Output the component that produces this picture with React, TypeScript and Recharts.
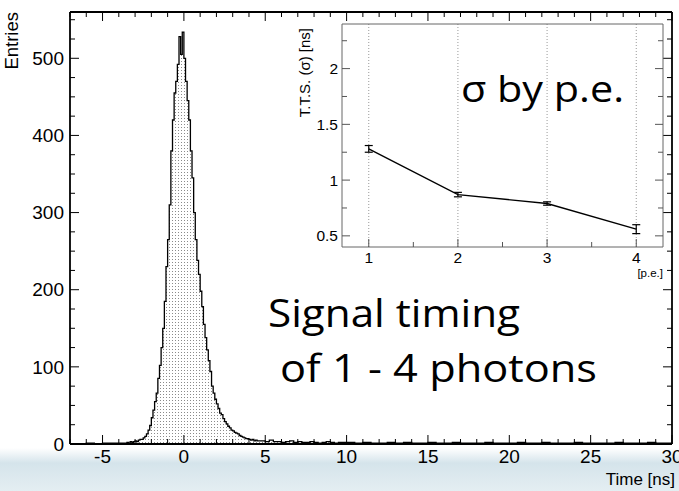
import React from "react";
import {
  Area,
  ComposedChart,
  ErrorBar,
  Line,
  LineChart,
  ReferenceLine,
  XAxis,
  YAxis,
} from "recharts";

// histogram of signal time [ns], bins of different width per region
const leadStart = -7;
const leadWidth = 0.5;
const leadCounts = [0, 0, 1, 0, 1, 1, 1];

const peakStart = -3.5;
const peakWidth = 0.1;
const peakCounts = [
  2, 1, 3, 2, 3, 4, 3, 5, 6, 6,
  8, 10, 13, 18, 24, 34, 44, 55, 66, 85,
  102, 125, 150, 185, 230, 265, 310, 380, 420, 455,
  470, 492, 528, 505, 534, 500, 470, 445, 420, 380,
  345, 300, 265, 238, 220, 198, 178, 155, 138, 122,
  108, 94, 75, 66, 58, 52, 46, 40, 38, 33,
  29, 26, 23, 21, 18, 17, 15, 14, 13, 11,
  10, 9, 8, 7, 7, 6, 5, 6, 4, 5,
];

const tailStart = 4.5;
const tailWidth = 0.25;
const tailCounts = [
  4, 4, 3, 5, 3, 3, 2, 3, 4, 2, 3, 2, 2, 3, 2, 1, 2, 3, 2, 1, 2, 2,
];

const farStart = 10;
const farWidth = 0.5;
const farCounts = [
  2, 1, 2, 1, 1, 2, 1, 2, 1, 1, 2, 1, 1, 2, 1, 1, 1, 2, 1, 1,
  1, 2, 1, 1, 2, 1, 1, 1, 2, 1, 1, 1, 1, 2, 1, 1, 1, 2, 1, 1,
];

// inset: T.T.S. (sigma) vs number of photo-electrons
const peValues = [1, 2, 3, 4];
const ttsValues = [1.28, 0.87, 0.79, 0.56];
const ttsErrors = [0.03, 0.02, 0.015, 0.04];

const timeTicks = Array.from({ length: 38 }, (_, i) => i - 7);
const entryTicks = Array.from({ length: 23 }, (_, i) => i * 25);
const peTicks = [1, 1.5, 2, 2.5, 3, 3.5, 4];
const ttsTicks = [0.5, 0.75, 1, 1.25, 1.5, 1.75, 2, 2.25];

const toRows = (start: number, width: number, counts: number[]) =>
  counts.map((n, i) => ({ t: +(start + i * width).toFixed(3), n }));

const histRows = [
  ...toRows(leadStart, leadWidth, leadCounts),
  ...toRows(peakStart, peakWidth, peakCounts),
  ...toRows(tailStart, tailWidth, tailCounts),
  ...toRows(farStart, farWidth, farCounts),
  { t: 30, n: farCounts[farCounts.length - 1] },
];

const ttsRows = peValues.map((pe, i) => ({
  pe,
  tts: ttsValues[i],
  err: ttsErrors[i],
}));

const font = "'Liberation Sans', Arial, sans-serif";

function TimeTick(props: any) {
  const { x, y, payload, top } = props;
  const v = payload.value;
  const major = v % 5 === 0;
  const len = major ? 9 : 5;
  const dir = top ? 1 : -1;
  return (
    <g>
      <line x1={x} x2={x} y1={y} y2={y + dir * len} stroke="#000" strokeWidth={1} />
      {!top && major && (
        <text x={x} y={y + 19} textAnchor="middle" fontSize={19} fontFamily={font} fill="#000">
          {v}
        </text>
      )}
    </g>
  );
}

function EntryTick(props: any) {
  const { x, y, payload, right } = props;
  const v = payload.value;
  const major = v % 100 === 0;
  const len = major ? 9 : 5;
  const dir = right ? -1 : 1;
  return (
    <g>
      <line x1={x} x2={x + dir * len} y1={y} y2={y} stroke="#000" strokeWidth={1} />
      {!right && major && (
        <text x={x - 6} y={y} dy="0.35em" textAnchor="end" fontSize={19} fontFamily={font} fill="#000">
          {v}
        </text>
      )}
    </g>
  );
}

function PeTick(props: any) {
  const { x, y, payload, top } = props;
  const v = payload.value;
  const major = Number.isInteger(v);
  if (top) return <g />;
  return (
    <g>
      <line x1={x} x2={x} y1={y} y2={y - (major ? 8 : 5)} stroke="#555" strokeWidth={1} />
      {major && (
        <text x={x} y={y + 16} textAnchor="middle" fontSize={15.5} fontFamily={font} fill="#000">
          {v}
        </text>
      )}
    </g>
  );
}

function TtsTick(props: any) {
  const { x, y, payload, right } = props;
  const v = payload.value;
  const major = Number.isInteger(v * 2);
  const dir = right ? -1 : 1;
  return (
    <g>
      <line x1={x} x2={x + dir * (major ? 8 : 5)} y1={y} y2={y} stroke="#555" strokeWidth={1} />
      {!right && major && (
        <text x={x - 4} y={y} dy="0.35em" textAnchor="end" fontSize={15.5} fontFamily={font} fill="#000">
          {v}
        </text>
      )}
    </g>
  );
}

export default function App() {
  const frame = { stroke: "#000", strokeWidth: 1.8 };
  const insetFrame = { stroke: "#666", strokeWidth: 1 };
  const slideFont = "'Open Sans', 'Noto Sans', sans-serif";

  return (
    <div style={{ position: "absolute", left: 0, top: 0, width: 679, height: 491, background: "#fff", overflow: "hidden" }}>
      {/* slide background band */}
      <div
        style={{
          position: "absolute",
          left: 0,
          top: 448,
          width: 679,
          height: 43,
          background: "linear-gradient(to bottom, #ffffff 0%, #d5e4eb 35%, #e4eef2 100%)",
        }}
      />

      <div style={{ position: "absolute", left: 0, top: 0 }}>
        <ComposedChart width={679} height={491} data={histRows} margin={{ top: 11, right: 6, bottom: 17, left: 20 }}>
          <defs>
            <pattern id="dots" width={3} height={3} patternUnits="userSpaceOnUse">
              <rect width={3} height={3} fill="#fff" />
              <rect x={1} y={1} width={1} height={1} fill="#8a8a8a" />
            </pattern>
          </defs>
          <XAxis
            dataKey="t"
            type="number"
            domain={[-7, 30]}
            ticks={timeTicks}
            interval={0}
            tickLine={false}
            tickSize={0}
            tickMargin={0}
            height={30}
            axisLine={frame}
            allowDataOverflow
            tick={(p: any) => <TimeTick {...p} />}
          />
          <XAxis
            xAxisId="top"
            dataKey="t"
            orientation="top"
            type="number"
            domain={[-7, 30]}
            ticks={timeTicks}
            interval={0}
            tickLine={false}
            tickSize={0}
            tickMargin={0}
            height={1}
            axisLine={frame}
            allowDataOverflow
            tick={(p: any) => <TimeTick {...p} top />}
          />
          <YAxis
            type="number"
            domain={[0, 560]}
            ticks={entryTicks}
            interval={0}
            tickLine={false}
            tickSize={0}
            tickMargin={0}
            width={50}
            axisLine={frame}
            allowDataOverflow
            tick={(p: any) => <EntryTick {...p} />}
          />
          <YAxis
            yAxisId="right"
            orientation="right"
            type="number"
            domain={[0, 560]}
            ticks={entryTicks}
            interval={0}
            tickLine={false}
            tickSize={0}
            tickMargin={0}
            width={1}
            axisLine={frame}
            allowDataOverflow
            tick={(p: any) => <EntryTick {...p} right />}
          />
          <Area
            dataKey="n"
            type="stepAfter"
            stroke="#000"
            strokeWidth={1.3}
            fill="url(#dots)"
            fillOpacity={1}
            dot={false}
            activeDot={false}
            isAnimationActive={false}
          />
          {/* invisible series so the mirrored frame axes get drawn */}
          <Line
            xAxisId="top"
            yAxisId="right"
            dataKey="n"
            stroke="none"
            dot={false}
            activeDot={false}
            isAnimationActive={false}
          />
        </ComposedChart>
      </div>

      <div style={{ position: "absolute", left: 280, top: 0 }}>
        <LineChart width={390} height={280} data={ttsRows} margin={{ top: 23, right: 6, bottom: 8, left: 22 }}>
          <XAxis
            dataKey="pe"
            type="number"
            domain={[0.7, 4.3]}
            ticks={peTicks}
            interval={0}
            tickLine={false}
            tickSize={0}
            tickMargin={0}
            height={25}
            axisLine={insetFrame}
            allowDataOverflow
            tick={(p: any) => <PeTick {...p} />}
          />
          <XAxis
            xAxisId="top"
            dataKey="pe"
            orientation="top"
            type="number"
            domain={[0.7, 4.3]}
            ticks={peTicks}
            interval={0}
            height={1}
            tickLine={false}
            tickSize={0}
            axisLine={insetFrame}
            allowDataOverflow
            tick={(p: any) => <PeTick {...p} top />}
          />
          <YAxis
            type="number"
            domain={[0.4, 2.4]}
            ticks={ttsTicks}
            interval={0}
            tickLine={false}
            tickSize={0}
            tickMargin={0}
            width={40}
            axisLine={insetFrame}
            allowDataOverflow
            tick={(p: any) => <TtsTick {...p} />}
          />
          <YAxis
            yAxisId="right"
            orientation="right"
            type="number"
            domain={[0.4, 2.4]}
            ticks={ttsTicks}
            interval={0}
            tickLine={false}
            tickSize={0}
            tickMargin={0}
            width={1}
            axisLine={insetFrame}
            allowDataOverflow
            tick={(p: any) => <TtsTick {...p} right />}
          />
          {peValues.map((v) => (
            <ReferenceLine key={v} x={v} stroke="#999" strokeDasharray="1 2" />
          ))}
          <Line dataKey="tts" stroke="#000" strokeWidth={1.4} dot={false} isAnimationActive={false}>
            <ErrorBar dataKey="err" width={4} stroke="#000" strokeWidth={1.2} direction="y" />
          </Line>
          <Line
            xAxisId="top"
            yAxisId="right"
            dataKey="tts"
            stroke="none"
            dot={false}
            activeDot={false}
            isAnimationActive={false}
          />
        </LineChart>
      </div>

      {/* axis titles and slide annotations */}
      <svg width={679} height={491} style={{ position: "absolute", left: 0, top: 0, pointerEvents: "none" }}>
        <text transform="translate(18,12) rotate(-90)" textAnchor="end" fontSize={18.5} fontFamily={font} fill="#000">
          Entries
        </text>
        <text x={675} y={485} textAnchor="end" fontSize={17} fontFamily={font} fill="#000">
          Time [ns]
        </text>
        <text transform="translate(310,28) rotate(-90)" textAnchor="end" fontSize={15} fontFamily={font} fill="#000">
          T.T.S. (σ) [ns]
        </text>
        <text x={663} y={277} textAnchor="end" fontSize={11.5} fontFamily={font} fill="#000">
          [p.e.]
        </text>
        <text x={461} y={102} fontSize={37} fontFamily={slideFont} fill="#000" textLength={163} lengthAdjust="spacingAndGlyphs">
          σ by p.e.
        </text>
        <text x={268} y={327} fontSize={39} fontFamily={slideFont} fill="#000" textLength={252} lengthAdjust="spacingAndGlyphs">
          Signal timing
        </text>
        <text x={280} y={382} fontSize={39} fontFamily={slideFont} fill="#000" textLength={317} lengthAdjust="spacingAndGlyphs">
          of 1 - 4 photons
        </text>
      </svg>
    </div>
  );
}
